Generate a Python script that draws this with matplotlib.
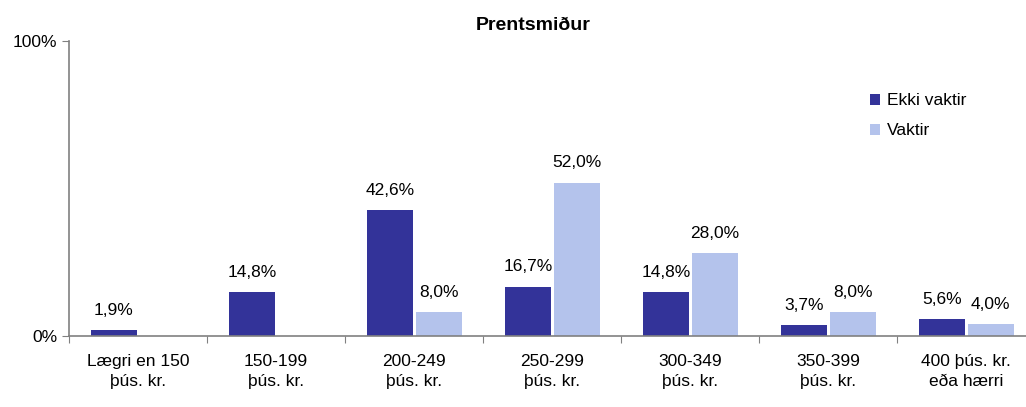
import numpy as np
import matplotlib.pyplot as plt

categories = ['Lægri en 150\nþús. kr.', '150-199\nþús. kr.', '200-249\nþús. kr.',
              '250-299\nþús. kr.', '300-349\nþús. kr.', '350-399\nþús. kr.',
              '400 þús. kr.\neða hærri']
ekki_vaktir = [1.9, 14.8, 42.6, 16.7, 14.8, 3.7, 5.6]
vaktir = [0.0, 0.0, 8.0, 52.0, 28.0, 8.0, 4.0]

plt.rcParams['font.family'] = ['Liberation Sans Narrow', 'Liberation Sans', 'DejaVu Sans']
plt.rcParams['font.size'] = 12.5

dark = '#333399'
light = '#b4c3ec'
axcol = '#808080'

fig = plt.figure(figsize=(10.26, 4.07), dpi=100)
# axes run past the right edge of the picture, as in the original
ax = fig.add_axes([0.0673, 0.1744, 0.9415, 0.725])

x = np.arange(len(categories))
w = 0.333
b1 = ax.bar(x - 0.175, ekki_vaktir, w, color=dark, label='Ekki vaktir')
b2 = ax.bar(x + 0.178, vaktir, w, color=light, label='Vaktir')

for bars, vals in ((b1, ekki_vaktir), (b2, vaktir)):
    for r, v in zip(bars, vals):
        if v > 0:
            ax.annotate(f'{v:.1f}%'.replace('.', ','),
                        (r.get_x() + r.get_width() / 2, v),
                        xytext=(0, 9), textcoords='offset points',
                        ha='center', va='bottom')

ax.set_xlim(-0.5, len(categories) - 0.5)
ax.set_ylim(0, 100)
ax.set_yticks([0, 100])
ax.set_yticklabels(['0%', '100%'])
ax.set_xticks(np.arange(len(categories) + 1) - 0.5)
ax.set_xticklabels([])
ax.set_xticks(x, minor=True)
ax.set_xticklabels(categories, minor=True, linespacing=1.45)
ax.tick_params(axis='x', which='minor', length=0, pad=13)
ax.tick_params(axis='x', which='major', length=5, color=axcol)
ax.tick_params(axis='y', length=5, color=axcol)

for s in ('top', 'right'):
    ax.spines[s].set_visible(False)
for s in ('left', 'bottom'):
    ax.spines[s].set_color(axcol)
    ax.spines[s].set_linewidth(1.2)

ax.set_title('Prentsmiður', fontsize=14, fontweight='bold', x=0.481, pad=8)

ax.legend(loc='upper left', bbox_to_anchor=(0.813, 0.875), frameon=False,
          handlelength=0.6, handleheight=0.6, handletextpad=0.35,
          labelspacing=0.85)

fig.savefig('out.png', dpi=100)
